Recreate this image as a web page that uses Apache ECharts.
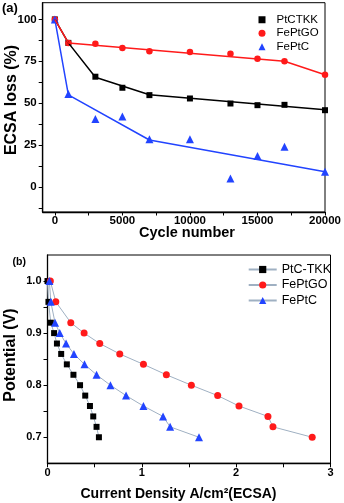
<!DOCTYPE html>
<html>
<head>
<meta charset="utf-8">
<script src="https://cdn.jsdelivr.net/npm/echarts@6/dist/echarts.min.js"></script>
<style>
  html, body { margin: 0; padding: 0; background: #fff; }
  #chart { width: 344px; height: 503px; }
</style>
</head>
<body>
<div id="chart"></div>
<script>
  // (a) ECSA loss vs cycle number
  var cycles = [0, 1000, 3000, 5000, 7000, 10000, 13000, 15000, 17000, 20000];
  var ptcTkk = [100, 86, 65.8, 59.2, 54.8, 52.8, 49.8, 48.8, 49, 45.8];
  var fePtGo = [100, 86, 85.5, 83, 81, 80.5, 79.5, 76.5, 75, 67];
  var fePtC = [100, 55.5, 40.5, 42, 28.5, 28.5, 5, 18.5, 24, 9];

  // fitted guide lines drawn through the points
  var ptcFitX = [0, 1000, 3000, 7000, 20000];
  var ptcFitY = [100, 86, 65.5, 55, 46];
  var goFitX = [0, 1000, 17000, 20000];
  var goFitY = [100, 86, 75, 67];
  var cFitX = [0, 1000, 7000, 20000];
  var cFitY = [100, 55, 28, 9];

  var cycleLabels = [0, 5000, 10000, 15000, 20000];
  var cycleTicks = [0, 2500, 5000, 7500, 10000, 12500, 15000, 17500, 20000];
  var lossLabels = [0, 25, 50, 75, 100];
  var lossTicks = [-12.5, 0, 12.5, 25, 37.5, 50, 62.5, 75, 87.5, 100];

  // (b) polarization curves
  var potential = [1.0, 0.96, 0.92, 0.90, 0.88, 0.86, 0.84, 0.82, 0.80, 0.78, 0.76, 0.74, 0.72, 0.70];
  var ptcTkkCurrent = [0, 0.01, 0.035, 0.07, 0.10, 0.145, 0.205, 0.275, 0.345, 0.40, 0.45, 0.485, 0.52, 0.545];
  var fePtGoCurrent = [0.03, 0.088, 0.247, 0.388, 0.554, 0.766, 1.017, 1.26, 1.525, 1.804, 2.03, 2.337, 2.39, 2.806];
  var fePtCCurrent = [0.02, 0.035, 0.08, 0.13, 0.197, 0.28, 0.392, 0.52, 0.667, 0.833, 1.017, 1.225, 1.30, 1.606];

  var currentLabels = [0, 1, 2, 3];
  var currentTicks = [0, 0.5, 1, 1.5, 2, 2.5, 3];
  var potentialLabels = [0.7, 0.8, 0.9, 1.0];
  var potentialTicks = [0.7, 0.75, 0.8, 0.85, 0.9, 0.95, 1.0];

  function pairs(xs, ys) {
    return xs.map(function (x, i) { return [x, ys[i]]; });
  }

  var font = 'Liberation Sans, Arial, sans-serif';
  var curveLine = '#9fb0c2';

  var chart = echarts.init(document.getElementById('chart'));

  chart.setOption({
    animation: false,
    textStyle: { fontFamily: font },
    grid: [
      { left: 42.7, top: 2.7, right: 18.5, bottom: 291, show: true, borderColor: '#000', borderWidth: 1 },
      { left: 47.5, top: 255, right: 13.5, bottom: 39.7, show: true, borderColor: '#000', borderWidth: 1 }
    ],
    xAxis: [{
      gridIndex: 0, type: 'value', min: -900, max: 20000,
      splitLine: { show: false },
      axisLine: { onZero: false, lineStyle: { color: '#000', width: 1.3 } },
      axisTick: { customValues: cycleTicks, length: 3.5, lineStyle: { color: '#000' } },
      axisLabel: {
        customValues: cycleLabels, color: '#000', fontWeight: 'bold', fontSize: 11.5, margin: 3,
        formatter: function (v) { return String(v); }
      }
    }, {
      gridIndex: 1, type: 'value', min: 0, max: 3,
      splitLine: { show: false },
      axisLine: { onZero: false, lineStyle: { color: '#000', width: 1.3 } },
      axisTick: { customValues: currentTicks, length: 4, lineStyle: { color: '#000' } },
      axisLabel: { customValues: currentLabels, color: '#000', fontWeight: 'bold', fontSize: 11, margin: 4 }
    }],
    yAxis: [{
      gridIndex: 0, type: 'value', min: -15, max: 110,
      splitLine: { show: false },
      axisLine: { show: true, onZero: false, lineStyle: { color: '#000', width: 1.3 } },
      axisTick: { show: true, customValues: lossTicks, length: 4, lineStyle: { color: '#000' } },
      axisLabel: { customValues: lossLabels, color: '#000', fontWeight: 'bold', fontSize: 11.5, margin: 6 }
    }, {
      gridIndex: 1, type: 'value', min: 0.65, max: 1.05,
      splitLine: { show: false },
      axisLine: { show: true, onZero: false, lineStyle: { color: '#000', width: 1.3 } },
      axisTick: { show: true, customValues: potentialTicks, length: 4, lineStyle: { color: '#000' } },
      axisLabel: {
        customValues: potentialLabels, color: '#000', fontWeight: 'bold', fontSize: 11, margin: 6,
        formatter: function (v) { return v.toFixed(1); }
      }
    }],
    legend: [{
      orient: 'vertical', left: 253.5, top: 8.5,
      itemWidth: 7, itemHeight: 7, itemGap: 1,
      textStyle: { fontSize: 11.5, color: '#000', lineHeight: 12.5, padding: [0, 0, 0, 6] },
      data: ['PtCTKK', 'FePtGO', 'FePtC']
    }, {
      orient: 'vertical', left: 242.7, top: 258,
      itemWidth: 28, itemHeight: 9, itemGap: 2.5,
      textStyle: { fontSize: 12.5, color: '#000', lineHeight: 13 },
      formatter: function (n) { return n.replace(' (b)', ''); },
      data: ['PtC-TKK', 'FePtGO (b)', 'FePtC (b)']
    }],
    graphic: [
      { type: 'text', x: 2, y: 8, style: { text: '(a)', font: 'bold 13px ' + font, fill: '#000', textVerticalAlign: 'middle' } },
      { type: 'text', x: 12.5, y: 262.5, style: { text: '(b)', font: 'bold 10.5px ' + font, fill: '#000', textVerticalAlign: 'middle' } },
      { type: 'text', x: 11.5, y: 100, rotation: Math.PI / 2,
        style: { text: 'ECSA loss (%)', font: 'bold 16px ' + font, fill: '#000', textAlign: 'center', textVerticalAlign: 'middle' } },
      { type: 'text', x: 187, y: 233,
        style: { text: 'Cycle number', font: 'bold 14.5px ' + font, fill: '#000', textAlign: 'center', textVerticalAlign: 'middle' } },
      { type: 'text', x: 11, y: 355, rotation: Math.PI / 2,
        style: { text: 'Potential (V)', font: 'bold 16px ' + font, fill: '#000', textAlign: 'center', textVerticalAlign: 'middle' } },
      { type: 'text', x: 178.5, y: 494,
        style: { text: 'Current Density A/cm\u00b2(ECSA)', font: 'bold 14px ' + font, fill: '#000', textAlign: 'center', textVerticalAlign: 'middle' } }
    ],
    series: [
      { name: 'PtCTKK fit', type: 'line', xAxisIndex: 0, yAxisIndex: 0, data: pairs(ptcFitX, ptcFitY),
        showSymbol: false, lineStyle: { color: '#000', width: 1.5 } },
      { name: 'FePtC fit', type: 'line', xAxisIndex: 0, yAxisIndex: 0, data: pairs(cFitX, cFitY),
        showSymbol: false, lineStyle: { color: '#2244ff', width: 1.5 } },
      { name: 'FePtGO fit', type: 'line', xAxisIndex: 0, yAxisIndex: 0, data: pairs(goFitX, goFitY),
        showSymbol: false, lineStyle: { color: '#ff1a1a', width: 1.5 } },
      { name: 'PtCTKK', type: 'scatter', xAxisIndex: 0, yAxisIndex: 0, data: pairs(cycles, ptcTkk),
        symbol: 'rect', symbolSize: 6, itemStyle: { color: '#000', opacity: 1 } },
      { name: 'FePtGO', type: 'scatter', xAxisIndex: 0, yAxisIndex: 0, data: pairs(cycles, fePtGo),
        symbol: 'circle', symbolSize: 6.5, itemStyle: { color: '#ff1a1a', opacity: 1 } },
      { name: 'FePtC', type: 'scatter', xAxisIndex: 0, yAxisIndex: 0, data: pairs(cycles, fePtC),
        symbol: 'triangle', symbolSize: 8, itemStyle: { color: '#2244ff', opacity: 1 } },

      { name: 'PtC-TKK', type: 'line', xAxisIndex: 1, yAxisIndex: 1, data: pairs(ptcTkkCurrent, potential),
        symbol: 'rect', symbolSize: 6, lineStyle: { color: curveLine, width: 1 }, itemStyle: { color: '#000' } },
      { name: 'FePtGO (b)', type: 'line', xAxisIndex: 1, yAxisIndex: 1, data: pairs(fePtGoCurrent, potential),
        symbol: 'circle', symbolSize: 7, lineStyle: { color: curveLine, width: 1 }, itemStyle: { color: '#ff1a1a' } },
      { name: 'FePtC (b)', type: 'line', xAxisIndex: 1, yAxisIndex: 1, data: pairs(fePtCCurrent, potential),
        symbol: 'triangle', symbolSize: 8, lineStyle: { color: curveLine, width: 1 }, itemStyle: { color: '#2244ff' } }
    ]
  });
</script>
</body>
</html>
